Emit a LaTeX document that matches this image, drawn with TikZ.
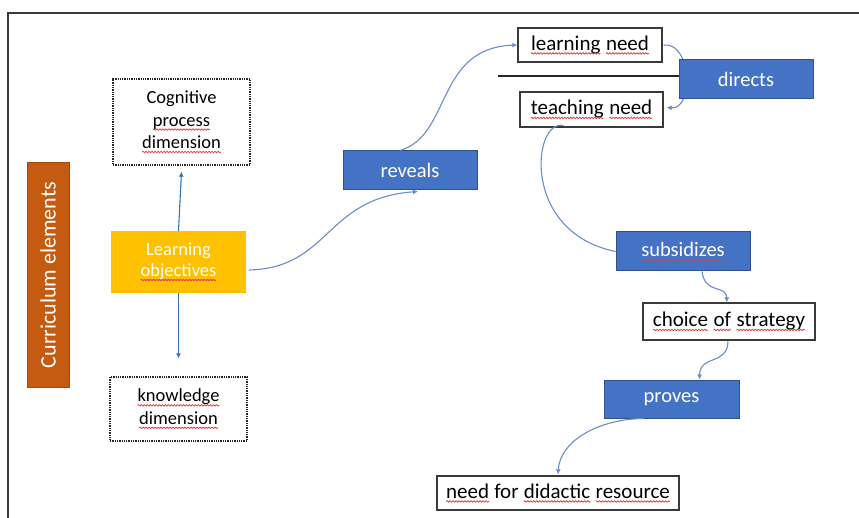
\documentclass[tikz,border=0pt]{standalone}
\usepackage{fontspec}
\setmainfont{Carlito}
\usetikzlibrary{arrows.meta,calc,decorations.pathmorphing}

\definecolor{boxblue}{HTML}{4472C4}
\definecolor{boxblueline}{HTML}{2F528F}
\definecolor{goldfill}{HTML}{FFC000}
\definecolor{rust}{HTML}{C55A11}
\definecolor{rustline}{HTML}{A8490C}
\definecolor{linkblue}{HTML}{6A8CC7}
\definecolor{stemblue}{HTML}{2E75B6}
\definecolor{framegrey}{HTML}{3A3A3A}
\definecolor{squig}{HTML}{E0403A}

% spell-check style wavy underline: #1 = text colour, #2 = word
\newcommand\spl[2]{\tikz[baseline=(sw.base)]{%
  \node[inner sep=0pt, outer sep=0pt, minimum width=0pt, minimum height=0pt,
        draw=none, fill=none, text=#1] (sw) {#2};
  \draw[squig, solid, line width=0.8pt,
        decorate, decoration={snake, amplitude=0.7pt, segment length=3pt}]
    ([yshift=-3.4pt]sw.base west) -- ([yshift=-3.4pt]sw.base east);}}

\pgfdeclarelayer{back}
\pgfsetlayers{back,main}

\tikzset{
  plainbox/.style={draw=framegrey, line width=1.3pt, fill=white, inner sep=0pt,
    font=\fontsize{21}{25}\selectfont},
  dotbox/.style={draw=black!85, densely dotted, line width=1.3pt, fill=white,
    inner sep=0pt, align=center, font=\fontsize{18.5}{22.5}\selectfont},
  verbbox/.style={draw=boxblueline, line width=1pt, fill=boxblue, text=white,
    inner sep=0pt, font=\fontsize{20.5}{24}\selectfont},
  goldbox/.style={fill=goldfill, text=white, inner sep=0pt, align=center,
    font=\fontsize{18.5}{21}\selectfont},
  rustbox/.style={draw=rustline, line width=1pt, fill=rust, text=white,
    inner sep=0pt, font=\fontsize{22}{26}\selectfont},
  conn/.style={draw=linkblue, line width=1.1pt, -{Latex[length=5pt,width=5pt]}},
  plainconn/.style={draw=linkblue, line width=1.1pt},
  stem/.style={draw=stemblue, line width=1.1pt, -{Latex[length=5pt,width=5pt]}},
}

\begin{document}
\begin{tikzpicture}[x=1pt,y=-1pt]
\useasboundingbox (0,0) rectangle (859,518);

% frame
\draw[framegrey, line width=1.8pt] (8,518) -- (8,13) -- (859,13);

% curriculum label
\node[rustbox, minimum width=224pt, minimum height=42pt, rotate=90] (curr) at (48,275) {Curriculum elements};

% learning objectives and its two dimensions
\node[dotbox, minimum width=137pt, minimum height=86pt] (cog) at (181.5,122)
  {Cognitive\\ \spl{black}{process}\\ \spl{black}{dimension}};
\node[goldbox, minimum width=135pt, minimum height=62pt] (lo) at (178.5,262)
  {Learning\\ \spl{white}{objectives}};
\node[dotbox, minimum width=137pt, minimum height=64pt] (know) at (178.5,409)
  {\spl{black}{knowledge}\\ \spl{black}{dimension}};

% verbs
\node[verbbox, minimum width=134pt, minimum height=39pt] (reveals) at (410,170.5) {reveals};
\node[verbbox, minimum width=134pt, minimum height=39pt] (directs) at (746,79.5) {directs};
\node[verbbox, minimum width=134pt, minimum height=39pt] (subs) at (683,251.5) {\spl{white}{subsidizes}};
\node[verbbox, minimum width=135pt, minimum height=38pt] (proves) at (671.5,399) {proves};

% needs and choices
\node[plainbox, minimum width=144pt, minimum height=34pt] (lneed) at (590,45)
  {\spl{black}{learning} \spl{black}{need}};
\node[plainbox, minimum width=143pt, minimum height=35pt] (tneed) at (591.5,109.5)
  {\spl{black}{teaching} \spl{black}{need}};
\node[plainbox, minimum width=172pt, minimum height=37pt] (choice) at (729,321.5)
  {\spl{black}{choice} \spl{black}{of} \spl{black}{strategy}};
\node[plainbox, minimum width=242pt, minimum height=34pt] (didac) at (558,493)
  {\spl{black}{need} for \spl{black}{didactic} \spl{black}{resource}};

% connectors
\coordinate (hl) at (498,76);
\begin{pgfonlayer}{back}
  \draw[black!85, line width=1.2pt] (hl) -- (hl -| directs.center);
  \draw[conn] ($(lneed.east)+(1,0)$) .. controls (692,42) and (694,110) .. ($(tneed.east)+(3,-2)$);
\end{pgfonlayer}

\draw[stem] (lo.north) -- ($(cog.south)+(0,6)$);
\draw[stem] (lo.south) -- ($(know.north)+(0,-18)$);

\draw[conn] ($(lo.east)+(3,8)$) .. controls (330,268) and (325,198) .. ($(reveals.south)+(8,1)$);
\draw[conn] ($(reveals.north)+(-10,0)$) .. controls (452,135) and (435,48) .. (lneed.west);
\draw[plainconn] ($(tneed.south)+(-28,-2)$) .. controls (533,118) and (520,232) .. (subs.west);
\draw[conn] ($(subs.south)+(19,0)$) .. controls (705,295) and (726,284) .. ($(choice.north)+(-2,0)$);
\draw[conn] ($(choice.south)+(-1,0)$) .. controls (728,366) and (700,354) .. ($(proves.north)+(28,0)$);
\draw[conn] ($(proves.south)+(-28,0)$) .. controls (600,419) and (560,440) .. ($(didac.north)+(0,-1)$);
\end{tikzpicture}
\end{document}
